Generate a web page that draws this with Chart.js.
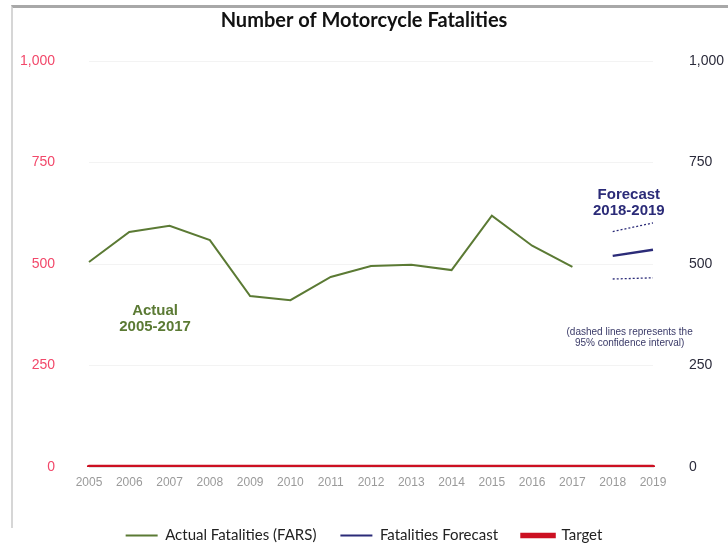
<!DOCTYPE html>
<html>
<head>
<meta charset="utf-8">
<script src="https://cdn.jsdelivr.net/npm/chart.js@4.4.1/dist/chart.umd.min.js"></script>
<style>
  html, body { margin: 0; padding: 0; background: #fff; overflow: hidden; }
  #wrap { position: relative; width: 728px; height: 553px; }
  #frame { position: absolute; left: 11px; top: 5px; width: 717px; height: 520px;
           border-top: 3px solid #a8a8a8; border-left: 2px solid #d6d6d6; }
</style>
</head>
<body>
<div id="wrap">
  <div id="frame"></div>
  <canvas id="chart" width="728" height="553"></canvas>
</div>
<script>
// years on the x axis
const years = ['2005','2006','2007','2008','2009','2010','2011','2012','2013','2014','2015','2016','2017','2018','2019'];
// FARS actual fatalities 2005-2017
const actualFatalities = [505, 579, 594, 559, 421, 411, 468, 495, 498, 485, 619, 545, 493, null, null];
// forecast 2018-2019 and its 95% confidence band
const forecast = [null, null, null, null, null, null, null, null, null, null, null, null, null, 520, 535];
const forecastUpper = [null, null, null, null, null, null, null, null, null, null, null, null, null, 580, 601];
const forecastLower = [null, null, null, null, null, null, null, null, null, null, null, null, null, 463, 466];
const target = [0, 0, 0, 0, 0, 0, 0, 0, 0, 0, 0, 0, 0, 0, 0];
const yTicks = [0, 250, 500, 750, 1000];

const GREEN = '#5b7a34';
const NAVY = '#2b2b78';
const RED = '#cc1022';

// text notes drawn on top of the plot
const notesPlugin = {
  id: 'notes',
  afterDatasetsDraw(chart) {
    const { ctx } = chart;
    const xs = chart.scales.x, ys = chart.scales.y;
    ctx.save();
    ctx.textAlign = 'center';
    ctx.textBaseline = 'middle';
    ctx.font = 'bold 15px "Liberation Sans", Arial, sans-serif';
    ctx.fillStyle = GREEN;
    ctx.fillText('Actual', xs.getPixelForValue(1.64), ys.getPixelForValue(384));
    ctx.fillText('2005-2017', xs.getPixelForValue(1.64), ys.getPixelForValue(344));
    ctx.fillStyle = NAVY;
    ctx.fillText('Forecast', xs.getPixelForValue(13.4), ys.getPixelForValue(671));
    ctx.fillText('2018-2019', xs.getPixelForValue(13.4), ys.getPixelForValue(631));
    ctx.font = '10px "Liberation Sans", Arial, sans-serif';
    ctx.fillStyle = '#3a3a68';
    ctx.fillText('(dashed lines represents the', xs.getPixelForValue(13.42), ys.getPixelForValue(332));
    ctx.fillText('95% confidence interval)', xs.getPixelForValue(13.42), ys.getPixelForValue(304));
    ctx.restore();
  }
};

const ctx = document.getElementById('chart').getContext('2d');
new Chart(ctx, {
  type: 'line',
  data: {
    labels: years,
    datasets: [
      { label: 'Actual Fatalities (FARS)', data: actualFatalities, borderColor: GREEN, backgroundColor: GREEN, borderWidth: 2, pointRadius: 0, yAxisID: 'y' },
      { label: 'Fatalities Forecast', data: forecast, borderColor: NAVY, backgroundColor: NAVY, borderWidth: 2.5, pointRadius: 0, yAxisID: 'y' },
      { label: 'upper', data: forecastUpper, borderColor: NAVY, borderWidth: 1.3, borderDash: [2, 2], pointRadius: 0, yAxisID: 'y' },
      { label: 'lower', data: forecastLower, borderColor: NAVY, borderWidth: 1.3, borderDash: [2, 2], pointRadius: 0, yAxisID: 'y' },
      { label: 'Target', data: target, borderColor: RED, backgroundColor: RED, borderWidth: 4.5, pointRadius: 0, borderCapStyle: 'round', yAxisID: 'y' }
    ]
  },
  options: {
    responsive: false,
    animation: false,
    layout: { padding: 0 },
    scales: {
      x: {
        type: 'category',
        offset: false,
        grid: { display: false, drawTicks: false },
        border: { color: '#e2e2e2' },
        ticks: { color: '#9a9a9a', font: { family: '"Liberation Sans", Arial', size: 12 }, padding: 8, autoSkip: false, maxRotation: 0 },
        afterFit(scale) { scale.height = 37; }
      },
      y: {
        position: 'left',
        min: 0, max: 1000,
        afterBuildTicks(scale) { scale.ticks = yTicks.map(v => ({ value: v })); },
        grid: { color: '#f3f3f3', drawTicks: false },
        border: { display: false },
        ticks: { color: '#f2486a', font: { family: '"Liberation Sans", Arial', size: 14 }, padding: 34 },
        afterFit(scale) { scale.width = 89; }
      },
      y2: {
        position: 'right',
        min: 0, max: 1000,
        afterBuildTicks(scale) { scale.ticks = yTicks.map(v => ({ value: v })); },
        grid: { display: false, drawTicks: false },
        border: { display: false },
        ticks: { color: '#2b2b3b', font: { family: '"Liberation Sans", Arial', size: 14 }, padding: 36 },
        afterFit(scale) { scale.width = 75; }
      }
    },
    plugins: {
      title: {
        display: true,
        text: 'Number of Motorcycle Fatalities',
        color: '#111',
        font: { family: 'Lato', size: 20, weight: 'bold' },
        padding: { top: 9, bottom: 28 }
      },
      legend: {
        position: 'bottom',
        labels: {
          color: '#222',
          font: { family: 'Lato', size: 15 },
          boxWidth: 32,
          boxHeight: 2,
          padding: 24,
          filter: item => item.text !== 'upper' && item.text !== 'lower',
          generateLabels(chart) {
            return chart.data.datasets.map((ds, i) => ({
              text: ds.label,
              fillStyle: ds.borderColor,
              strokeStyle: ds.borderColor,
              lineWidth: ds.label === 'Target' ? 3.5 : 0,
              fontColor: '#222',
              hidden: false,
              datasetIndex: i
            }));
          }
        }
      },
      tooltip: { enabled: false }
    }
  },
  plugins: [notesPlugin]
});
</script>
</body>
</html>
